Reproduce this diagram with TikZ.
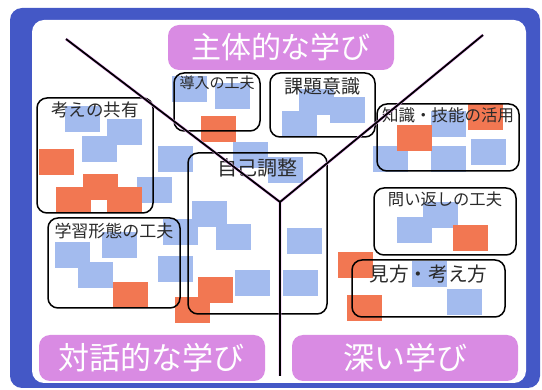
\documentclass[tikz,border=0pt]{standalone}
\usepackage{fontspec}
\newfontfamily\jpfont{Noto Sans CJK JP}
\usetikzlibrary{positioning}
\newcommand{\jpsize}[1]{\jpfont\fontsize{#1}{#1}\selectfont}
\definecolor{framebl}{HTML}{4458C6}
\definecolor{pillpk}{HTML}{D98BE3}
\definecolor{notebl}{HTML}{A3BBEE}
\definecolor{noteor}{HTML}{F27752}
\definecolor{txtgray}{HTML}{2A2A2A}
\definecolor{halo}{HTML}{E6A6F0}

\begin{document}
\begin{tikzpicture}[x=1pt, y=-1pt,
	pill/.style={fill=pillpk, rounded corners=11pt, inner sep=0pt, text=white},
	frame/.style={draw=black, line width=1.5pt, rounded corners=10pt, inner sep=0pt},
	lbl/.style={text=txtgray, inner sep=0pt},
	bluenote/.style={fill=notebl},
	orangenote/.style={fill=noteor},
	split/.style={draw=black, line width=1.8pt}]
	\useasboundingbox (0,0) rectangle (542,390);

	% outer frame
	\fill[framebl, rounded corners=12pt] (10,8) rectangle (540,388);
	\fill[white, rounded corners=12pt] (32,20) rectangle (526,383);

	% titles
	\node [pill, minimum width=226, minimum height=45] (shutai) at (281,47.5) {\jpsize{30}主体的な学び};
	\node [pill, minimum width=226, minimum height=46] (taiwa)  at (152,358)  {\jpsize{31}対話的な学び};
	\node [pill, minimum width=226, minimum height=46] (fukai)  at (405,358)  {\jpsize{31}深い学び};

	% sticky notes
	\foreach \x/\y in {172/76, 215/83, 299/89, 330/97, 282/111, 65/106, 107/119, 82/136,
		158/146, 137/177, 233/142, 268/157, 192/201, 216/224, 163/219, 158/256,
		55/242, 102/232, 78/262, 287/228, 235/270, 283/270, 431/111, 373/146,
		431/146, 471/139, 397/217, 423/202, 412/261, 447/289}
		\fill [bluenote] (\x,\y) rectangle ++(35,26);
	\foreach \x/\y in {201/116, 39/149, 83/174, 56/187, 107/187, 113/282, 198/277,
		175/297, 397/125, 468/104, 453/225, 338/252, 347/295}
		\fill [orangenote] (\x,\y) rectangle ++(35,26);

	% boxes
	\node [frame, minimum width=116, minimum height=115] (kyoyu)  at (95,155.5)  {};
	\node [frame, minimum width=86,  minimum height=58]  (donyu)  at (217,102)   {};
	\node [frame, minimum width=105, minimum height=64]  (kadai)  at (322.5,105) {};
	\node [frame, minimum width=142, minimum height=67]  (chishiki) at (448,137.5) {};
	\node [frame, minimum width=142, minimum height=67]  (toi)    at (445,221.5) {};
	\node [frame, minimum width=153, minimum height=57]  (mikata) at (428.5,288.5) {};
	\node [frame, minimum width=139, minimum height=161] (jiko)   at (257.5,233.5) {};
	\node [frame, minimum width=132, minimum height=90]  (gakushu) at (114,263)  {};

	\node [lbl] (kyoyu-t)    at ([yshift=-13pt]kyoyu.north)    {\jpsize{17.5}考えの共有};
	\node [lbl] (donyu-t)    at ([yshift=-11pt]donyu.north)    {\jpsize{15}導入の工夫};
	\node [lbl] (kadai-t)    at ([yshift=-14pt]kadai.north)    {\jpsize{19}課題意識};
	\node [lbl] (chishiki-t) at ([yshift=-12pt]chishiki.north) {\jpsize{16.5}知識・技能の活用};
	\node [lbl] (toi-t)      at ([yshift=-12pt]toi.north)      {\jpsize{16.3}問い返しの工夫};
	\node [lbl] (mikata-t)   at ([yshift=-15pt]mikata.north)   {\jpsize{19.7}見方・考え方};
	\node [lbl] (jiko-t)     at ([yshift=-16pt]jiko.north)     {\jpsize{20}自己調整};
	\node [lbl] (gakushu-t)  at ([yshift=-14pt]gakushu.north)  {\jpsize{17}学習形態の工夫};

	% dividing lines
	\coordinate (lt)  at (66,39);
	\coordinate (rt)  at (483,35);
	\coordinate (mid) at (280,202);
	\coordinate (bot) at (280,376);
	\draw [halo, line width=2.8pt] (lt) -- (mid) -- (rt) (mid) -- (bot);
	\path [split] (lt) -- (mid) -- (rt)
		(mid) -- (bot);
\end{tikzpicture}
\end{document}
